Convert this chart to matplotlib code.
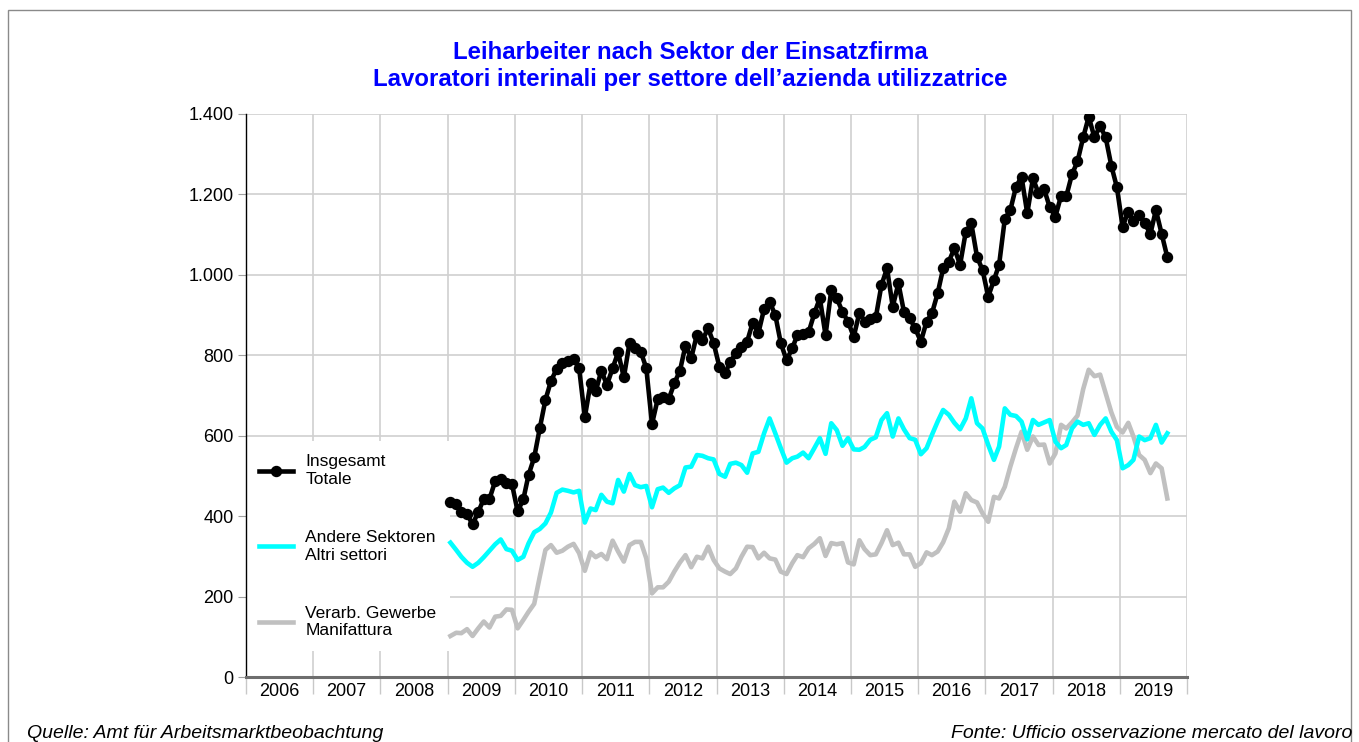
import pandas as pd
import matplotlib
matplotlib.use("Agg")
from matplotlib import pyplot as plt
import matplotlib.dates as mdates
from matplotlib.patches import Rectangle
from matplotlib.ticker import FuncFormatter, MultipleLocator

plt.rcParams["font.family"] = ["Liberation Sans", "DejaVu Sans"]

# monthly values, Jan 2009 - Sep 2019
first_month = "2009-01-01"
insgesamt = [
    434, 431, 411, 405, 380, 410, 443, 443, 487, 493, 483, 480,
    412, 442, 502, 546, 618, 689, 736, 766, 780, 785, 790, 768,
    646, 730, 710, 762, 726, 768, 807, 745, 831, 817, 809, 768,
    629, 691, 696, 691, 730, 762, 824, 793, 851, 838, 867, 830,
    772, 755, 784, 805, 821, 834, 881, 855, 915, 933, 900, 830,
    788, 817, 851, 853, 857, 904, 942, 850, 962, 942, 908, 884,
    846, 906, 884, 890, 894, 975, 1016, 921, 979, 908, 892, 867,
    834, 884, 904, 954, 1016, 1033, 1066, 1025, 1107, 1128, 1045, 1012,
    946, 987, 1025, 1139, 1161, 1219, 1244, 1153, 1240, 1203, 1213, 1168,
    1145, 1197, 1195, 1250, 1282, 1342, 1393, 1342, 1370, 1342, 1271, 1218,
    1120, 1157, 1135, 1149, 1128, 1102, 1161, 1102, 1044,
]
andere = [
    334, 316, 299, 284, 274, 284, 298, 314, 330, 342, 318, 314,
    291, 299, 332, 360, 368, 382, 409, 458, 466, 463, 459, 463,
    384, 419, 415, 453, 436, 432, 490, 461, 505, 477, 472, 475,
    422, 467, 471, 458, 469, 477, 521, 523, 552, 550, 544, 541,
    505, 498, 530, 533, 527, 508, 556, 560, 606, 643, 606, 569,
    533, 544, 548, 558, 544, 569, 594, 555, 631, 614, 575, 594,
    566, 565, 572, 590, 596, 639, 656, 598, 643, 616, 594, 590,
    554, 569, 602, 635, 664, 652, 632, 616, 643, 693, 631, 618,
    577, 540, 573, 668, 652, 649, 635, 591, 639, 627, 633, 639,
    585, 569, 577, 618, 635, 627, 631, 602, 627, 643, 610, 589,
    519, 527, 540, 598, 589, 594, 627, 583, 606,
]
verarb = [
    102, 110, 109, 119, 102, 121, 138, 123, 150, 152, 168, 167,
    121, 142, 162, 182, 249, 316, 328, 309, 314, 324, 331, 308,
    264, 310, 298, 306, 293, 339, 312, 287, 328, 336, 336, 295,
    208, 223, 223, 237, 262, 285, 303, 273, 299, 295, 324, 291,
    270, 262, 256, 270, 299, 324, 323, 295, 309, 295, 292, 262,
    256, 283, 303, 298, 320, 331, 345, 301, 333, 330, 333, 285,
    280, 340, 318, 303, 305, 333, 365, 328, 334, 305, 305, 274,
    283, 310, 303, 312, 335, 370, 436, 411, 457, 440, 434, 407,
    386, 448, 444, 473, 523, 569, 610, 565, 598, 577, 578, 531,
    556, 627, 618, 633, 650, 716, 764, 748, 752, 706, 658, 622,
    608, 632, 598, 552, 540, 507, 531, 519, 444,
]
series_labels = [
    "Insgesamt\nTotale",
    "Andere Sektoren\nAltri settori",
    "Verarb. Gewerbe\nManifattura",
]
title = ("Leiharbeiter nach Sektor der Einsatzfirma\n"
         "Lavoratori interinali per settore dell\u2019azienda utilizzatrice")
source_de = "Quelle: Amt für Arbeitsmarktbeobachtung"
source_it = "Fonte: Ufficio osservazione mercato del lavoro"

months = pd.date_range(first_month, periods=len(insgesamt), freq="MS") + pd.Timedelta(days=15)

W, H = 1359, 742
fig = plt.figure(figsize=(W / 100, H / 100), dpi=100)
ax = fig.add_axes([246 / W, 1 - 677 / H, (1187 - 246) / W, (677 - 114) / H])

# outer frame of the picture
fig.add_artist(Rectangle((8 / W, -0.1), (1351 - 8) / W, 1.1 - 10 / H,
                         transform=fig.transFigure, fill=False,
                         edgecolor="#8a8a8a", lw=1.0))

ax.plot(months, verarb, color="#c0c0c0", lw=3.3, zorder=3, label=series_labels[2])
ax.plot(months, andere, color="#00ffff", lw=3.3, zorder=4, label=series_labels[1])
ax.plot(months, insgesamt, color="black", lw=3.3, marker="o", ms=7.2,
        zorder=5, label=series_labels[0])

ax.set_xlim(pd.Timestamp("2006-01-01"), pd.Timestamp("2020-01-01"))
ax.set_ylim(0, 1400)

ax.xaxis.set_major_locator(mdates.YearLocator())
ax.xaxis.set_major_formatter(plt.NullFormatter())
ax.xaxis.set_minor_locator(mdates.MonthLocator(bymonth=7))
ax.xaxis.set_minor_formatter(mdates.DateFormatter("%Y"))
ax.tick_params(axis="x", which="major", length=12, color="#c8c8c8", width=1)
ax.tick_params(axis="x", which="minor", length=0, labelsize=13, pad=4)

ax.yaxis.set_major_locator(MultipleLocator(200))
ax.yaxis.set_major_formatter(FuncFormatter(lambda v, p: f"{int(v):,}".replace(",", ".")))
ax.tick_params(axis="y", length=6, color="#a0a0a0", labelsize=13, pad=3)

ax.grid(True, which="major", color="#d0d0d0", lw=1.2, zorder=0)
for s in ("top", "right"):
    ax.spines[s].set_visible(False)
ax.spines["left"].set_color("black")
ax.spines["left"].set_linewidth(1)
ax.spines["bottom"].set_color("#6e6e6e")
ax.spines["bottom"].set_linewidth(2.2)

# legend sits above the grid but under the data lines
handles, labels = ax.get_legend_handles_labels()
leg = ax.legend(handles[::-1], labels[::-1], loc="center left",
                bbox_to_anchor=(0.0, 0.232), borderaxespad=0, fontsize=12.5,
                labelspacing=2.5, handlelength=1.95, handletextpad=0.72,
                borderpad=0.75, frameon=True, facecolor="white",
                edgecolor="none", framealpha=1, fancybox=False)
leg.set_zorder(2)

fig.text(690 / W, 1 - 66 / H, title, color="#0000ff", fontsize=17.3,
         fontweight="bold", ha="center", va="center", linespacing=1.2)
fig.text(27 / W, 1 - 733 / H, source_de, fontsize=14, style="italic",
         ha="left", va="center")
fig.text(1352 / W, 1 - 733 / H, source_it, fontsize=14, style="italic",
         ha="right", va="center")

fig.savefig("out.png", dpi=100)
